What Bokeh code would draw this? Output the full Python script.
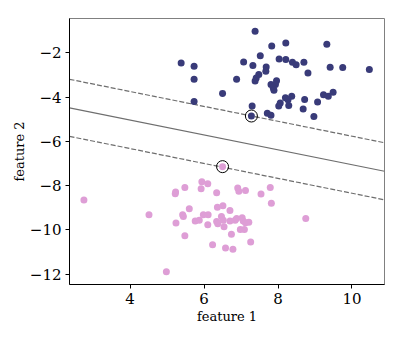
from bokeh.plotting import figure
from bokeh.embed import file_html
from bokeh.resources import INLINE
from bokeh.models import FixedTicker, CustomJSTickFormatter

# ---- data ----
blue_x = [7.38, 7.83, 8.21, 9.32, 7.52, 5.38, 5.73, 7.07, 7.32, 7.68,
          8.03, 8.21, 8.39, 8.49, 8.70, 9.41, 9.75, 10.47, 7.67, 7.48,
          7.41, 7.38, 8.81, 5.73, 6.88, 7.96, 7.81, 7.93, 7.87, 7.89,
          6.50, 8.20, 8.37, 8.27, 8.06, 8.02, 8.29, 8.72, 9.07, 9.23,
          9.36, 9.49, 5.73, 7.30, 8.68, 7.71, 7.81, 8.97, 7.28]
blue_y = [-1.02, -1.68, -1.55, -1.61, -2.12, -2.45, -2.60, -2.41, -2.56, -2.63,
          -2.27, -2.29, -2.42, -2.53, -2.42, -2.65, -2.66, -2.75, -2.83, -2.97,
          -3.13, -3.27, -2.90, -3.19, -3.19, -3.25, -3.43, -3.42, -3.57, -3.69,
          -3.83, -4.02, -3.96, -4.11, -4.26, -4.40, -4.38, -4.10, -4.22, -3.89,
          -3.96, -3.78, -4.19, -4.40, -4.53, -4.73, -4.82, -4.87, -4.85]

pink_x = [6.50, 2.75, 5.94, 6.10, 5.48, 5.92, 5.23, 5.22, 6.34, 6.91,
          6.94, 7.12, 7.79, 7.54, 7.82, 5.60, 6.36, 6.51, 6.70, 4.51,
          5.42, 5.44, 5.98, 6.11, 5.24, 5.76, 5.87, 6.10, 6.34, 6.37,
          6.47, 6.52, 6.70, 6.84, 6.88, 7.03, 7.06, 7.12, 7.21, 6.54,
          6.98, 7.09, 8.75, 5.48, 6.74, 7.26, 6.23, 6.58, 6.78, 4.98]
pink_y = [-7.14, -8.65, -7.82, -7.91, -8.08, -8.14, -8.29, -8.37, -8.32, -8.11,
          -8.25, -8.22, -8.08, -8.38, -8.79, -9.04, -8.98, -8.91, -9.12, -9.32,
          -9.32, -9.40, -9.32, -9.32, -9.69, -9.60, -9.56, -9.77, -9.62, -9.72,
          -9.40, -9.56, -9.60, -9.56, -9.48, -9.45, -9.60, -9.68, -9.66, -9.86,
          -9.98, -9.98, -9.49, -10.27, -10.20, -10.55, -10.67, -10.82, -10.88, -11.89]

sv_x = [7.28, 6.50]
sv_y = [-4.85, -7.14]

# linear SVM: w1*x + w2*y + b = level
w1, w2, b = -0.261, -0.775, -2.856
levels = [-1, 0, 1]
level_dash = ["5 2", "solid", "5 2"]

x_lim = [2.36, 10.88]
y_lim = [-12.47, -0.44]
x_ticks = [4, 6, 8, 10]
y_ticks = [-2, -4, -6, -8, -10, -12]

BLUE = "#393b79"
PINK = "#de9ed6"
FONT = "DejaVu Serif"

p = figure(frame_width=315, frame_height=266,
           x_range=tuple(x_lim), y_range=tuple(y_lim),
           output_backend="svg", toolbar_location=None,
           min_border_left=69, min_border_right=11,
           min_border_top=18, min_border_bottom=47)

p.xgrid.visible = False
p.ygrid.visible = False
p.outline_line_color = "#808080"
p.outline_line_width = 1

# decision boundary and margins
for lev, dash in zip(levels, level_dash):
    ys = [(lev - b - w1 * xv) / w2 for xv in x_lim]
    p.line(x_lim, ys, line_color="#6e6e6e", line_width=1.2, line_dash=dash)

p.scatter(blue_x, blue_y, size=7, fill_color=BLUE, line_color=BLUE, line_width=0)
p.scatter(pink_x, pink_y, size=7, fill_color=PINK, line_color=PINK, line_width=0)
p.scatter(sv_x, sv_y, size=12, fill_color=None, line_color="black", line_width=1)

fmt = CustomJSTickFormatter(code="return String(tick).replace('-', '\u2212');")
p.xaxis.ticker = FixedTicker(ticks=x_ticks)
p.yaxis.ticker = FixedTicker(ticks=y_ticks)
p.yaxis.formatter = fmt
p.xaxis.formatter = fmt

for ax in (p.xaxis[0], p.yaxis[0]):
    ax.major_label_text_font = FONT
    ax.major_label_text_font_size = "15px"
    ax.major_label_text_color = "black"
    ax.axis_label_text_font = FONT
    ax.axis_label_text_font_size = "13px"
    ax.axis_label_text_font_style = "normal"
    ax.axis_label_text_color = "black"
    ax.minor_tick_line_color = None
    ax.major_tick_in = 0
    ax.major_tick_out = 4
    ax.major_tick_line_color = "black"
    ax.axis_line_color = "black"
    ax.major_label_standoff = 4

p.xaxis.axis_label = "feature 1"
p.yaxis.axis_label = "feature 2"
p.xaxis.axis_label_standoff = 2
p.yaxis.axis_label_standoff = 0

open("out.html", "w").write(file_html(p, INLINE))
